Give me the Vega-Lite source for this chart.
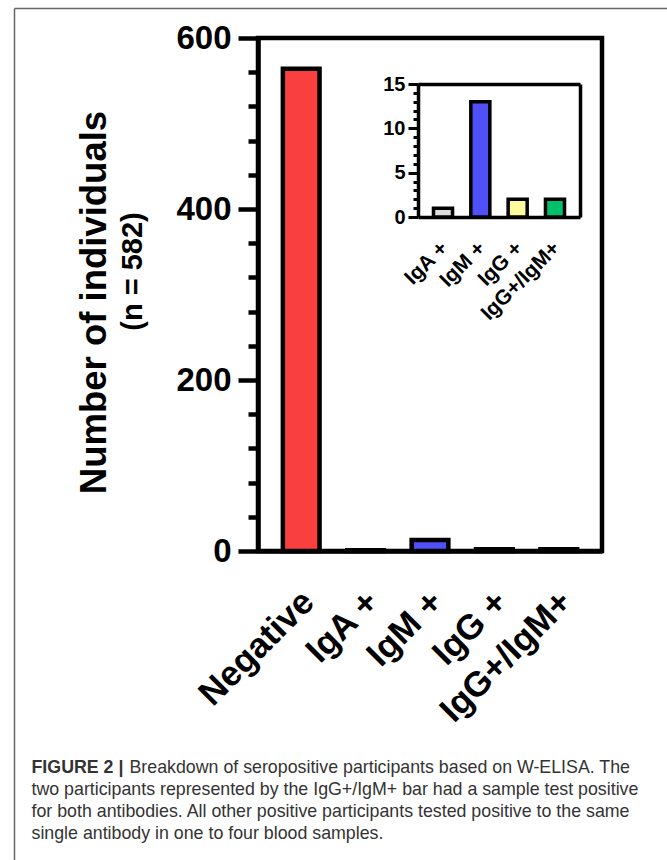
{
  "$schema": "https://vega.github.io/schema/vega-lite/v6.json",
  "width": 344,
  "height": 513,
  "autosize": {"type": "none"},
  "padding": {"left": 258, "top": 38, "right": 65, "bottom": 309},
  "background": "white",
  "config": {
    "font": "Liberation Sans",
    "view": {"stroke": "black", "strokeWidth": 4.5},
    "axis": {"grid": false, "labelColor": "black", "domainColor": "black", "tickColor": "black", "titleColor": "black"}
  },
  "data": {
    "values": [
      {"category": "Negative", "count": 564},
      {"category": "IgA +", "count": 1},
      {"category": "IgM +", "count": 13},
      {"category": "IgG +", "count": 2},
      {"category": "IgG+/IgM+", "count": 2}
    ]
  },
  "resolve": {"scale": {"x": "independent", "y": "independent"}},
  "layer": [
    {
      "mark": {"type": "bar", "stroke": "black", "strokeWidth": 4.5},
      "encoding": {
        "x": {
          "field": "category", "type": "nominal", "sort": null,
          "scale": {"domain": ["Negative", "IgA +", "IgM +", "IgG +", "IgG+/IgM+"], "paddingInner": 0.43, "paddingOuter": 0.386},
          "axis": {
            "orient": "bottom", "labelAngle": -45, "labelFontSize": 35, "labelFontWeight": "bold",
            "labelPadding": 33, "labelOffset": -5, "ticks": false, "domainWidth": 4.5, "labelOverlap": false, "labelLimit": 0,
            "title": ["two participants represented by the IgG+/IgM+ bar had a sample test positive", "for both antibodies. All other positive participants tested positive to the same", "single antibody in one to four blood samples."],
            "titleX": -227, "titleY": 243, "titleAlign": "left", "titleBaseline": "alphabetic",
            "titleFontSize": 17.8, "titleFontWeight": "normal", "titleColor": "#333333", "titleLineHeight": 22
          }
        },
        "y": {
          "field": "count", "type": "quantitative",
          "scale": {"domain": [0, 600], "nice": false},
          "axis": {
            "orient": "left", "values": [0, 200, 400, 600], "tickSize": 20, "tickWidth": 4.5, "domainWidth": 4.5,
            "labelFontSize": 33, "labelFontWeight": "bold", "labelPadding": 7,
            "title": "Number of individuals", "titleFontSize": 36.5, "titleFontWeight": "bold", "titleAngle": -90,
            "titleX": -153, "titleY": 264, "titleAlign": "center", "titleBaseline": "alphabetic"
          }
        },
        "color": {
          "field": "category", "type": "nominal",
          "scale": {"domain": ["Negative", "IgA +", "IgM +", "IgG +", "IgG+/IgM+"], "range": ["#fa3f3f", "#dddddd", "#5050f8", "#fdfb9c", "#00c06b"]},
          "legend": null
        }
      }
    },
    {
      "mark": {"type": "point", "opacity": 0},
      "encoding": {
        "y": {
          "field": "count", "type": "quantitative",
          "scale": {"domain": [0, 600], "nice": false},
          "axis": {
            "orient": "left", "values": [40, 80, 120, 160, 240, 280, 320, 360, 440, 480, 520, 560],
            "tickSize": 10, "tickWidth": 4.5, "domain": false, "labels": false,
            "title": "(n = 582)", "titleFontSize": 29, "titleFontWeight": "bold", "titleAngle": -90,
            "titleX": -117, "titleY": 233, "titleAlign": "center", "titleBaseline": "alphabetic"
          }
        }
      }
    },
    {
      "transform": [{"filter": "datum.category !== 'Negative'"}],
      "mark": {"type": "bar", "stroke": "black", "strokeWidth": 3.5},
      "encoding": {
        "x": {
          "field": "category", "type": "nominal", "sort": null,
          "scale": {"domain": ["IgA +", "IgM +", "IgG +", "IgG+/IgM+"], "range": [160, 322], "paddingInner": 0.49, "paddingOuter": 0.415},
          "axis": {
            "orient": "bottom", "offset": -334, "labelAngle": -45, "labelFontSize": 21, "labelFontWeight": "bold",
            "labelPadding": 20, "labelOffset": -6, "ticks": false, "domainWidth": 3.5, "labelOverlap": false, "labelLimit": 0,
            "title": "Breakdown of seropositive participants based on W-ELISA. The",
            "titleX": -129, "titleY": 555, "titleAlign": "left", "titleBaseline": "alphabetic",
            "titleFontSize": 17.8, "titleFontWeight": "normal", "titleColor": "#333333"
          }
        },
        "y": {
          "field": "count", "type": "quantitative",
          "scale": {"domain": [0, 15], "nice": false, "range": [179, 46]},
          "axis": {
            "orient": "left", "offset": -160, "values": [0, 5, 10, 15], "tickSize": 10, "tickWidth": 3,
            "domainWidth": 3.5, "labelFontSize": 20, "labelFontWeight": "bold", "labelPadding": 3, "title": null
          }
        },
        "color": {
          "field": "category", "type": "nominal",
          "scale": {"domain": ["Negative", "IgA +", "IgM +", "IgG +", "IgG+/IgM+"], "range": ["#fa3f3f", "#dddddd", "#5050f8", "#fdfb9c", "#00c06b"]},
          "legend": null
        }
      }
    },
    {
      "transform": [{"filter": "datum.category !== 'Negative'"}],
      "mark": {"type": "point", "opacity": 0},
      "encoding": {
        "y": {
          "field": "count", "type": "quantitative",
          "scale": {"domain": [0, 15], "nice": false, "range": [179, 46]},
          "axis": {
            "orient": "left", "offset": -160, "values": [1, 2, 3, 4, 6, 7, 8, 9, 11, 12, 13, 14],
            "tickSize": 5, "tickWidth": 3, "domain": false, "labels": false,
            "title": "FIGURE 2 |", "titleX": -387, "titleY": 734, "titleAngle": 0, "titleAlign": "left",
            "titleBaseline": "alphabetic", "titleFontSize": 17.8, "titleFontWeight": "bold", "titleColor": "#333333"
          }
        }
      }
    },
    {
      "transform": [{"filter": "datum.category !== 'Negative'"}],
      "mark": {"type": "point", "opacity": 0},
      "encoding": {
        "x": {
          "field": "category", "type": "nominal", "sort": null,
          "scale": {"domain": ["IgA +", "IgM +", "IgG +", "IgG+/IgM+"], "range": [160, 322], "paddingInner": 0.49, "paddingOuter": 0.415},
          "axis": {"orient": "top", "offset": -46, "ticks": false, "labels": false, "domainWidth": 3.5, "title": null}
        },
        "y": {
          "field": "count", "type": "quantitative",
          "scale": {"domain": [0, 15], "nice": false, "range": [179, 46]},
          "axis": {"orient": "right", "offset": -22, "ticks": false, "labels": false, "domainWidth": 3.5, "title": null}
        }
      }
    },
    {
      "mark": {"type": "point", "opacity": 0},
      "encoding": {
        "x": {
          "field": "count", "type": "quantitative",
          "scale": {"domain": [0, 600], "nice": false, "range": [-244, 409]},
          "axis": {"orient": "top", "offset": 30, "ticks": false, "labels": false, "domainColor": "#666666", "domainWidth": 1.5, "title": null}
        },
        "y": {
          "field": "count", "type": "quantitative",
          "scale": {"domain": [0, 600], "nice": false, "range": [822, -30]},
          "axis": {"orient": "left", "offset": 244, "ticks": false, "labels": false, "domainColor": "#666666", "domainWidth": 1.5, "title": null}
        }
      }
    }
  ]
}
